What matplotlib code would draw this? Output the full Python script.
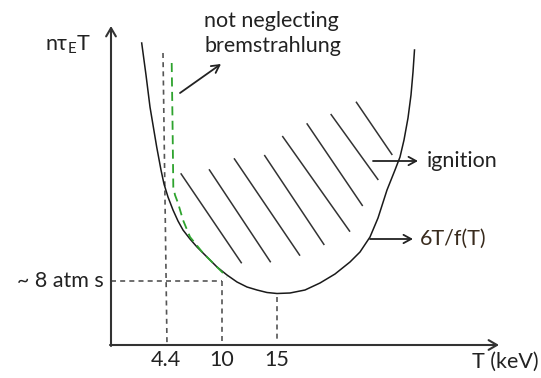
import matplotlib
matplotlib.use("Agg")
import matplotlib.pyplot as plt

plt.rcParams['font.family'] = ['Lato', 'DejaVu Sans']
plt.rcParams['mathtext.fontset'] = 'custom'
plt.rcParams['mathtext.rm'] = 'Lato'

# ---- data (schematic, in picture coordinates) ----
curve_x = [141.7, 146, 150, 156.7, 161, 164, 168, 173, 178, 183, 190, 197, 207, 217, 227,
           237, 247, 257, 267, 277, 290, 305, 320, 335, 350, 360, 370, 378, 387, 395,
           400, 404, 408, 411, 413, 414.5]
curve_y = [43, 75, 107, 147, 170, 184, 197, 210, 221, 230, 239, 247, 257, 267, 275,
           282, 287, 290, 292.5, 293.5, 293, 290, 283, 274, 262, 252, 237, 218, 190, 170,
           157, 140, 118, 95, 72, 50]

brems_x = [171.7, 172.5, 173.3, 175, 178, 183, 190, 203, 217, 227]
brems_y = [63, 120, 187, 195, 203, 220, 237, 253, 267, 277]

hatch_x0 = [180.7, 209, 234, 264.3, 282.3, 306.7, 330.7, 356]
hatch_y0 = [173.3, 169.3, 158.3, 155, 136, 123.3, 114, 101.7]
hatch_x1 = [241.7, 270.7, 300, 324.3, 350, 362.7, 378.3, 392.3]
hatch_y1 = [263.3, 262.3, 255.7, 245, 231.7, 206, 180, 155]

tick_labels = ['4.4', '10', '15']
tick_pos = [166, 222, 277]
min_level_label = '~ 8 atm s'
min_level_y = 281

fig = plt.figure(figsize=(5.41, 3.78), dpi=100)
ax = fig.add_axes([0, 0, 1, 1])
ax.set_xlim(0, 541)
ax.set_ylim(378, 0)
ax.axis('off')

ink = '#222222'
axis_col = '#333333'
dash_col = '#555555'

# axes arrows
ax.annotate('', xy=(111, 26), xytext=(111, 346),
            arrowprops=dict(arrowstyle='->,head_length=0.6,head_width=0.35', lw=1.5, color=axis_col,
                            shrinkA=0, shrinkB=0))
ax.annotate('', xy=(499, 345), xytext=(110, 345),
            arrowprops=dict(arrowstyle='->,head_length=0.6,head_width=0.35', lw=1.5, color=axis_col,
                            shrinkA=0, shrinkB=0))

# dashed guide lines
dash_kw = dict(color=dash_col, lw=1.2, linestyle=(0, (3, 2.5)))
ax.plot([163, 167], [53, 345], **dash_kw)
ax.plot([111, tick_pos[1]], [min_level_y, min_level_y], **dash_kw)
ax.plot([tick_pos[1], tick_pos[1]], [min_level_y, 345], **dash_kw)
ax.plot([tick_pos[2], tick_pos[2]], [297, 341], **dash_kw)

# hatch
for x0, y0, x1, y1 in zip(hatch_x0, hatch_y0, hatch_x1, hatch_y1):
    ax.plot([x0, x1], [y0, y1], color='#333333', lw=1.1, solid_capstyle='butt')

# main curve
ax.plot(curve_x, curve_y, color='#1a1a1a', lw=1.1)
# bremsstrahlung curve
ax.plot(brems_x, brems_y, color='#2ea32e', lw=1.3, linestyle=(0, (5, 3)))

# annotation arrows
arr = dict(arrowstyle='->,head_length=0.55,head_width=0.3', lw=1.3, color=ink, shrinkA=0, shrinkB=0)
ax.annotate('', xy=(221, 64), xytext=(180, 93), arrowprops=arr)
ax.annotate('', xy=(418, 161), xytext=(373, 161), arrowprops=arr)
ax.annotate('', xy=(413, 239), xytext=(370, 239), arrowprops=arr)

# texts
fs = 15.5
ax.text(204, 21, 'not neglecting', fontsize=fs, color=ink, va='center', ha='left')
ax.text(204, 46, 'bremstrahlung', fontsize=fs, color=ink, va='center', ha='left')
ax.text(427, 161, 'ignition', fontsize=fs, color=ink, va='center', ha='left')
ax.text(420, 239, '6T/f(T)', fontsize=fs, color='#3a2c1e', va='center', ha='left')
ax.text(104, min_level_y, min_level_label, fontsize=fs, color=ink, va='center', ha='right')
ax.text(472, 362, 'T (keV)', fontsize=fs, color=ink, va='center', ha='left')
ax.text(45, 45, r'n$\mathregular{\tau_E}$T', fontsize=fs, color=ink, va='center', ha='left')
for lab, p in zip(tick_labels, tick_pos):
    ax.text(p, 360, lab, fontsize=fs, color=ink, va='center', ha='center')

fig.savefig('out.png', dpi=100)
